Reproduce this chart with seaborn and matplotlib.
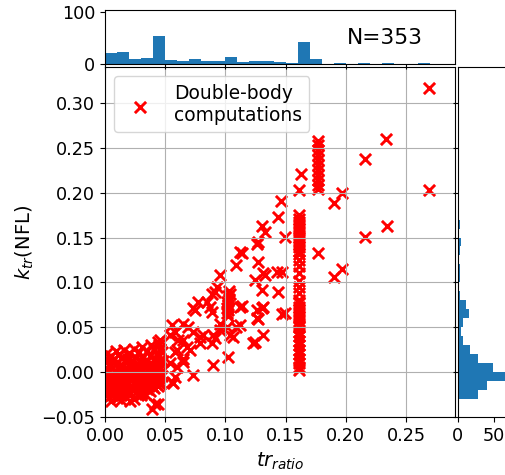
import numpy as np
import pandas as pd
import matplotlib
matplotlib.use("Agg")
import matplotlib.pyplot as plt
import seaborn as sns

# ---------------- data ----------------
# dense cluster at small tr_ratio (x, y)
cluster_low = [
    (0.002, 0.021), (0.009, 0.023), (0.016, 0.025), (0.024, 0.026), (0.031, 0.028), (0.038, 0.030), (0.044, 0.034), (0.046, 0.036),
    (0.005, 0.018), (0.012, 0.020), (0.020, 0.021), (0.028, 0.022), (0.035, 0.024), (0.041, 0.026),
    (0.002, 0.015), (0.007, 0.014), (0.013, 0.016), (0.019, 0.015), (0.025, 0.017), (0.031, 0.016), (0.037, 0.018), (0.043, 0.020), (0.047, 0.022),
    (0.001, 0.011), (0.006, 0.012), (0.011, 0.011), (0.017, 0.012), (0.023, 0.012), (0.029, 0.013), (0.035, 0.013), (0.041, 0.015),
    (0.004, 0.008), (0.009, 0.009), (0.015, 0.007), (0.021, 0.009), (0.028, 0.008), (0.033, 0.010), (0.039, 0.009), (0.044, 0.011), (0.048, 0.012),
    (0.001, 0.005), (0.006, 0.005), (0.011, 0.006), (0.016, 0.004), (0.022, 0.005), (0.027, 0.004), (0.033, 0.006), (0.039, 0.005),
    (0.002, 0.002), (0.008, 0.001), (0.012, 0.003), (0.018, 0.002), (0.024, 0.000), (0.030, 0.003), (0.036, 0.002), (0.042, 0.004), (0.046, 0.005),
    (0.001, -0.001), (0.006, -0.002), (0.011, -0.001), (0.017, -0.002), (0.022, -0.001), (0.028, -0.002), (0.034, -0.001), (0.040, -0.001),
    (0.003, -0.004), (0.009, -0.005), (0.014, -0.003), (0.020, -0.005), (0.026, -0.004), (0.032, -0.006), (0.038, -0.003), (0.043, -0.002), (0.047, -0.004),
    (0.001, -0.007), (0.005, -0.008), (0.011, -0.007), (0.016, -0.008), (0.022, -0.007), (0.028, -0.008), (0.034, -0.007), (0.040, -0.006),
    (0.002, -0.010), (0.007, -0.011), (0.013, -0.009), (0.019, -0.012), (0.025, -0.010), (0.031, -0.011), (0.036, -0.009), (0.041, -0.010), (0.046, -0.011),
    (0.001, -0.013), (0.006, -0.014), (0.012, -0.013), (0.018, -0.014), (0.024, -0.013), (0.030, -0.014), (0.036, -0.013), (0.042, -0.013),
    (0.004, -0.016), (0.010, -0.017), (0.016, -0.015), (0.022, -0.018), (0.028, -0.016), (0.033, -0.017), (0.039, -0.015), (0.044, -0.016),
    (0.001, -0.019), (0.006, -0.020), (0.012, -0.019), (0.018, -0.020), (0.024, -0.019), (0.030, -0.020), (0.035, -0.019), (0.041, -0.018),
    (0.002, -0.022), (0.008, -0.023), (0.014, -0.021), (0.020, -0.024), (0.026, -0.022), (0.031, -0.023), (0.037, -0.021),
    (0.001, -0.025), (0.006, -0.026), (0.013, -0.025), (0.020, -0.026), (0.027, -0.025), (0.033, -0.024),
    (0.003, -0.028), (0.010, -0.029), (0.017, -0.027), (0.024, -0.030), (0.030, -0.026),
    (0.005, -0.032), (0.013, -0.031), (0.021, -0.032),
    (0.045, 0.030), (0.046, 0.026), (0.045, 0.018), (0.046, 0.014), (0.045, 0.006), (0.046, -0.001), (0.045, -0.007), (0.046, -0.013),
    (0.0388, -0.0415), (0.0443, -0.0356), (0.0415, -0.035), (0.0567, -0.0126), (0.0554, -0.011),
]

# scattered points for tr_ratio between 0.05 and 0.15
cluster_mid = [
    (0.0554, 0.052), (0.065, 0.054), (0.054, 0.041), (0.061, 0.0356), (0.068, 0.028), (0.058, 0.0226),
    (0.0706, 0.0245), (0.065, 0.015), (0.054, 0.0097), (0.0595, 0.006), (0.058, -0.005), (0.0733, -0.0033),
    (0.0733, 0.045), (0.0817, 0.041), (0.090, 0.041), (0.079, 0.032), (0.0886, 0.032), (0.079, 0.039),
    (0.091, 0.0375), (0.069, 0.050), (0.058, 0.045), (0.065, 0.0356), (0.0595, 0.0245), (0.065, 0.0115),
    (0.090, 0.0078), (0.1024, 0.017),
    (0.0733, 0.071), (0.0775, 0.078), (0.0845, 0.078), (0.0886, 0.067), (0.075, 0.069), (0.087, 0.073),
    (0.0928, 0.095), (0.0886, 0.0876), (0.091, 0.089), (0.1038, 0.0876), (0.0955, 0.108),
    (0.101, 0.078), (0.102, 0.075), (0.101, 0.072), (0.102, 0.069), (0.101, 0.066), (0.102, 0.063),
    (0.103, 0.090), (0.102, 0.085), (0.103, 0.081),
    (0.1135, 0.0735), (0.130, 0.071), (0.126, 0.060), (0.112, 0.053), (0.101, 0.050), (0.0955, 0.054),
    (0.0955, 0.047), (0.109, 0.050), (0.1066, 0.039), (0.104, 0.041), (0.1315, 0.041), (0.123, 0.032),
    (0.1246, 0.034), (0.127, 0.0587), (0.1315, 0.0727), (0.147, 0.065), (0.144, 0.089), (0.147, 0.112),
    (0.130, 0.091), (0.1315, 0.110), (0.127, 0.123), (0.127, 0.145), (0.112, 0.134), (0.109, 0.119),
    (0.133, 0.108), (0.1246, 0.1025), (0.126, 0.143), (0.1135, 0.133), (0.112, 0.0727), (0.126, 0.069),
    (0.1495, 0.066), (0.1426, 0.112),
]

# vertical column of results near tr_ratio = 0.161
column_161_y = [
    0.175, 0.171, 0.167, 0.163, 0.159, 0.155, 0.151, 0.147, 0.143, 0.139, 0.135, 0.132,
    0.125, 0.118, 0.110, 0.102, 0.095, 0.088, 0.080,
    0.077, 0.073, 0.069, 0.065, 0.061, 0.057, 0.053, 0.050,
    0.045, 0.040, 0.035, 0.030, 0.025, 0.020, 0.015, 0.010, 0.006, 0.002,
]
column_161_x = 0.161

# vertical column of results near tr_ratio = 0.177
column_177_y = [0.258, 0.253, 0.247, 0.242, 0.236, 0.231, 0.225, 0.220, 0.214, 0.209, 0.204, 0.133]
column_177_x = 0.177

# remaining high points
cluster_high = [
    (0.133, 0.156), (0.130, 0.163), (0.144, 0.173), (0.146, 0.191), (0.1495, 0.151),
    (0.163, 0.221), (0.161, 0.203), (0.197, 0.200), (0.190, 0.189), (0.190, 0.106),
    (0.197, 0.115), (0.216, 0.151), (0.234, 0.1626), (0.2695, 0.2027), (0.216, 0.237),
    (0.2334, 0.2595), (0.2695, 0.317),
]

# marginal histogram heights as drawn (bins of width 0.01)
top_bin_start, top_bin_width = 0.0, 0.01
top_counts = [22, 24, 9, 12, 54, 8, 5, 10, 6, 6, 13, 4, 6, 6, 4, 2, 42, 10, 0, 1, 0, 1, 0, 1, 0, 0, 1, 0]
right_bin_start, right_bin_width = -0.03, 0.01
right_counts = [28, 41, 75, 49, 28, 18, 8, 5, 8, 16, 12, 3, 1, 4, 4, 1, 3, 5, 1, 3, 1, 0, 1, 2, 1, 2, 2, 1, 2, 0, 0, 0, 0, 0, 1]

x_ticks = [0.00, 0.05, 0.10, 0.15, 0.20, 0.25]
y_ticks = [-0.05, 0.00, 0.05, 0.10, 0.15, 0.20, 0.25, 0.30]
top_yticks = [0, 100]
right_xticks = [0, 50]
n_label = "N=353"
legend_label = "Double-body\ncomputations"

# ---------------- assemble ----------------
pts = (cluster_low + cluster_mid
       + [(column_161_x, v) for v in column_161_y]
       + [(column_177_x, v) for v in column_177_y]
       + cluster_high)
df = pd.DataFrame(pts, columns=["tr_ratio", "k_tr"])

n_top = len(top_counts)
top_df = pd.DataFrame({
    "center": top_bin_start + top_bin_width * (np.arange(n_top) + 0.5),
    "count": np.asarray(top_counts, dtype=float),
})
n_right = len(right_counts)
right_df = pd.DataFrame({
    "center": right_bin_start + right_bin_width * (np.arange(n_right) + 0.5),
    "count": np.asarray(right_counts, dtype=float),
})

W, H = 505, 475
fig = plt.figure(figsize=(W / 100, H / 100), dpi=100)

def box(l, t, r, b):
    return [l / W, 1 - b / H, (r - l) / W, (b - t) / H]

ax = fig.add_axes(box(105, 67, 455, 417))
ax_top = fig.add_axes(box(105, 10, 455, 64), sharex=ax)
ax_right = fig.add_axes(box(457.5, 67, 511.5, 417), sharey=ax)

sns.scatterplot(data=df, x="tr_ratio", y="k_tr", marker="x", color="red",
                s=65, linewidth=2.1, ax=ax, label=legend_label)

sns.histplot(data=top_df, x="center", weights="count", binwidth=top_bin_width,
             binrange=(top_bin_start, top_bin_start + top_bin_width * n_top),
             ax=ax_top, color="#1f77b4", alpha=1, edgecolor="none", linewidth=0)
sns.histplot(data=right_df, y="center", weights="count", binwidth=right_bin_width,
             binrange=(right_bin_start, right_bin_start + right_bin_width * n_right),
             ax=ax_right, color="#1f77b4", alpha=1, edgecolor="none", linewidth=0)

fs_tick = 12.7
ax.set_xticks(x_ticks)
ax.set_yticks(y_ticks)
ax.grid(True)
ax.tick_params(labelsize=fs_tick)
ax.set_xlabel("$tr_{ratio}$", fontsize=14)
ax.set_ylabel("$k_{tr}$(NFL)", fontsize=14)
leg = ax.legend(loc="upper left", fontsize=13.4)
for t in leg.get_texts():
    t.set_multialignment("left")

ax_top.set_ylim(0, 104)
ax_top.set_yticks(top_yticks)
ax_top.tick_params(labelbottom=False, labelsize=fs_tick)
ax_top.set_xlabel("")
ax_top.set_ylabel("")
ax_top.text(0.2326, 50, n_label, fontsize=15.7, ha="center", va="center")

ax_right.set_xlim(0, 75)
ax_right.set_xticks(right_xticks)
ax_right.tick_params(labelleft=False, labelsize=fs_tick)
ax_right.set_xlabel("")
ax_right.set_ylabel("")

ax.set_xlim(0, 0.2907)
ax.set_ylim(-0.05, 0.34)

fig.savefig("out.png", dpi=100)
